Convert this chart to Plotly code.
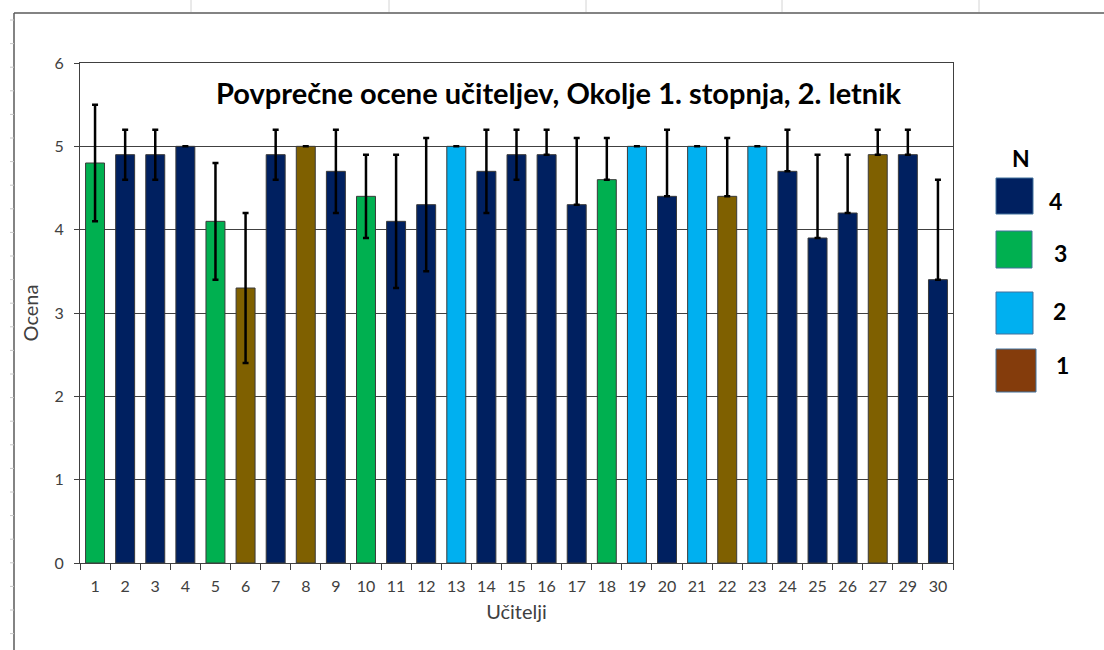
import plotly.graph_objects as go

# ---- data ----
teachers = ["1", "2", "3", "4", "5", "6", "7", "8", "9", "10", "11", "12", "13", "14", "15",
            "16", "17", "18", "19", "20", "21", "22", "23", "24", "25", "26", "27", "29", "30"]
means = [4.8, 4.9, 4.9, 5.0, 4.1, 3.3, 4.9, 5.0, 4.7, 4.4, 4.1, 4.3, 5.0, 4.7, 4.9,
         4.9, 4.3, 4.6, 5.0, 4.4, 5.0, 4.4, 5.0, 4.7, 3.9, 4.2, 4.9, 4.9, 3.4]
err_plus = [0.7, 0.3, 0.3, 0.0, 0.7, 0.9, 0.3, 0.0, 0.5, 0.5, 0.8, 0.8, 0.0, 0.5, 0.3,
            0.3, 0.8, 0.5, 0.0, 0.8, 0.0, 0.7, 0.0, 0.5, 1.0, 0.7, 0.3, 0.3, 1.2]
err_minus = [0.7, 0.3, 0.3, 0.0, 0.7, 0.9, 0.3, 0.0, 0.5, 0.5, 0.8, 0.8, 0.0, 0.5, 0.3,
             0, 0, 0, 0, 0, 0, 0, 0, 0, 0, 0, 0, 0, 0]
n_values = [3, 4, 4, 4, 3, 1, 4, 1, 4, 3, 4, 4, 2, 4, 4,
            4, 4, 3, 2, 4, 2, 1, 2, 4, 4, 4, 1, 4, 4]
legend_n = ["4", "3", "2", "1"]

title_text = "Povprečne ocene učiteljev, Okolje 1. stopnja, 2. letnik"
x_title = "Učitelji"
y_title = "Ocena"

# ---- styles ----
bar_colors = {4: "#002060", 3: "#00B050", 2: "#00B0F0", 1: "#7F6000"}
legend_colors = {"4": "#002060", "3": "#00B050", "2": "#00B0F0", "1": "#843C0C"}
FONT = "Lato"

W, H = 1104, 650
L, R, T, B = 80, 953, 63, 563
pw, ph = R - L, B - T


def px(x):
    return (x - L) / pw


def py(y):
    return (B - y) / ph


fig = go.Figure()
fig.add_trace(go.Bar(
    x=teachers, y=means,
    marker=dict(color=[bar_colors[n] for n in n_values], line=dict(color="#3a3a3a", width=1)),
    error_y=dict(type="data", symmetric=False, array=err_plus, arrayminus=err_minus,
                 color="black", thickness=2.5, width=3),
    showlegend=False,
))

shapes = []
# spreadsheet-like frame
shapes.append(dict(type="line", xref="paper", yref="paper", x0=px(14), x1=px(W), y0=py(13), y1=py(13),
                   line=dict(color="#5a5a5a", width=1.5), layer="below"))
shapes.append(dict(type="line", xref="paper", yref="paper", x0=px(14), x1=px(14), y0=py(13), y1=py(H),
                   line=dict(color="#5a5a5a", width=1.5), layer="below"))
for xx in [191, 389, 586, 782, 979]:
    shapes.append(dict(type="line", xref="paper", yref="paper", x0=px(xx), x1=px(xx), y0=py(0), y1=py(12),
                       line=dict(color="#d4d4d4", width=1), layer="below"))
yy = 20.0
while yy < H:
    shapes.append(dict(type="line", xref="paper", yref="paper", x0=px(10), x1=px(14), y0=py(yy), y1=py(yy),
                       line=dict(color="#c8c8c8", width=1), layer="below"))
    yy += 23.6

# custom legend
swatches = [(178, 214, 1033), (231, 268, 1032), (292, 334, 1033), (349, 392, 1036)]
label_pos = [(1055, 201), (1060, 253), (1059, 311), (1062, 365)]
annotations = [dict(text=title_text, xref="paper", yref="paper", x=px(559), y=py(92),
                    showarrow=False, xanchor="center", yanchor="middle",
                    font=dict(family=FONT, size=29, color="black", weight="bold"))]
annotations.append(dict(text="N", xref="paper", yref="paper", x=px(1021), y=py(158), showarrow=False,
                        xanchor="center", yanchor="middle",
                        font=dict(family=FONT, size=23, color="black", weight="bold")))
for lab, (y0, y1, x1), (lx, ly) in zip(legend_n, swatches, label_pos):
    shapes.append(dict(type="rect", xref="paper", yref="paper", x0=px(996), x1=px(x1), y0=py(y1), y1=py(y0),
                       fillcolor=legend_colors[lab], line=dict(color="#41719C", width=1)))
    annotations.append(dict(text=lab, xref="paper", yref="paper", x=px(lx), y=py(ly), showarrow=False,
                            xanchor="center", yanchor="middle",
                            font=dict(family=FONT, size=23, color="black", weight="bold")))

fig.update_layout(
    width=W, height=H,
    margin=dict(l=L, r=W - R, t=T, b=H - B, pad=0),
    paper_bgcolor="white", plot_bgcolor="white",
    bargap=0.37,
    font=dict(family=FONT, color="#404040"),
    shapes=shapes, annotations=annotations,
    xaxis=dict(
        type="category", showline=True, linecolor="#404040", linewidth=1, mirror=True,
        ticks="outside", ticklen=6, tickcolor="#404040", tickson="boundaries",
        ticklabelstandoff=9,
        tickfont=dict(family=FONT, size=16, color="#404040"),
        title=dict(text=x_title, font=dict(family=FONT, size=20, color="#404040"), standoff=10),
    ),
    yaxis=dict(
        range=[0, 6], dtick=1, showgrid=True, gridcolor="#404040", gridwidth=1,
        showline=True, linecolor="#404040", linewidth=1, mirror=True, zeroline=False,
        ticks="outside", ticklen=5, tickcolor="#404040",
        ticklabelstandoff=7,
        tickfont=dict(family=FONT, size=16, color="#404040"),
        title=dict(text=y_title, font=dict(family=FONT, size=20, color="#404040"), standoff=10),
    ),
)

fig.write_html("out.html", config={"displayModeBar": False},
               post_script="document.body.style.margin='0';document.body.style.overflow='hidden';")
